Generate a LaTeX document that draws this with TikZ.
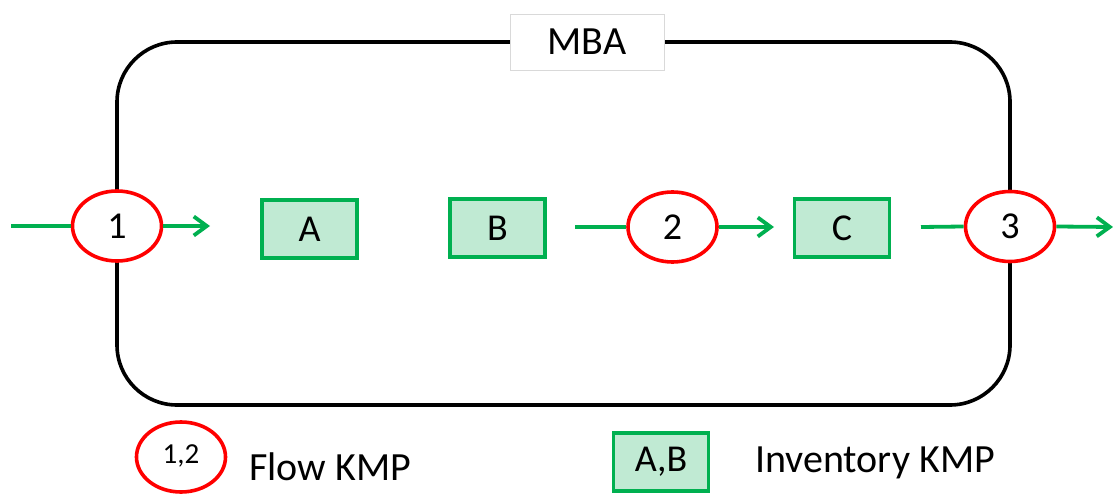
\documentclass[tikz,border=0pt]{standalone}
\usepackage{fontspec}
\setmainfont{Carlito}
\usetikzlibrary{shapes.geometric,arrows.meta}
\definecolor{kgreen}{HTML}{00B050}
\definecolor{kfill}{HTML}{C0EAD3}
\definecolor{kred}{HTML}{FF0000}
\begin{document}
\begin{tikzpicture}[x=1pt,y=-1pt,
  flowkmp/.style={ellipse,draw=kred,line width=3.6pt,fill=white,inner sep=0pt,
    minimum width=89pt,minimum height=70pt,font=\fontsize{38}{38}\selectfont},
  invkmp/.style={rectangle,draw=kgreen,line width=3.6pt,fill=kfill,inner sep=0pt,
    minimum width=95pt,minimum height=58pt,font=\fontsize{38}{38}\selectfont},
  flow/.style={draw=kgreen,line width=3.8pt},
  flowarrow/.style={flow,-{Straight Barb[length=13pt,width=19pt,line width=3.8pt]}},
  label/.style={font=\fontsize{40}{40}\selectfont,anchor=west,inner sep=0pt}]
\useasboundingbox (0,0) rectangle (1113,494);

% system boundary
\draw[line width=3.6pt,rounded corners=60pt] (117,42) rectangle (1010,405);
\node[draw=black!15,line width=0.8pt,fill=white,minimum width=154pt,minimum height=56pt,
  font=\fontsize{40}{40}\selectfont] (mba) at (587,42) {MBA};

% key measurement points
\node[flowkmp] (f1) at (117,226) {1};
\node[invkmp] (a) at (309.5,229) {A};
\node[invkmp] (b) at (497.5,228) {B};
\node[flowkmp] (f2) at (672.5,227) {2};
\node[invkmp] (c) at (842,228) {C};
\node[flowkmp] (f3) at (1010,226.5) {3};

% material flows
\coordinate (in) at (11,226);
\coordinate (f1out) at (210,226);
\coordinate (bout) at (575,227);
\coordinate (f2out) at (774,227);
\coordinate (cout) at (921,227);
\coordinate (f3out) at (1113,227);
\draw[flow] (in) -- (f1.west);
\draw[flowarrow] (f1.east) -- (f1out);
\draw[flow] (bout) -- (f2.west);
\draw[flowarrow] (f2.east) -- (f2out);
\draw[flow] (cout) -- (f3.west);
\draw[flowarrow] (f3.east) -- (f3out);

% legend
\node[flowkmp,font=\fontsize{29}{29}\selectfont] (lf) at (181,457) {\raisebox{6pt}{1,2}};
\node[label] (lft) at (249,467) {Flow KMP};
\node[invkmp] (li) at (661,462) {A,B};
\node[label] (lit) at (755,463) {Inventory KMP};
\end{tikzpicture}
\end{document}
